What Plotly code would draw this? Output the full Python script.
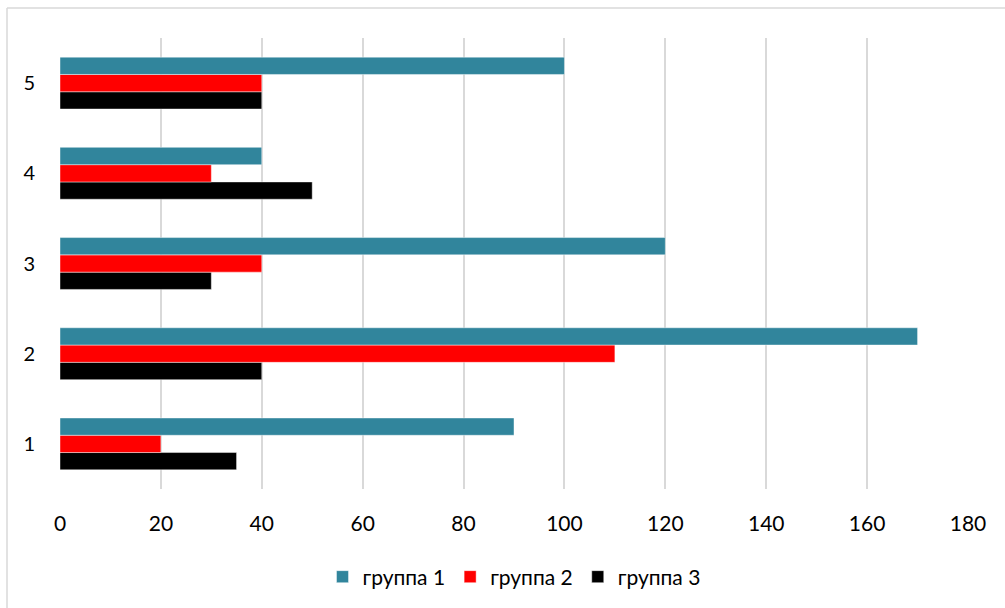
import plotly.graph_objects as go

# Chart data
categories = ["1", "2", "3", "4", "5"]
group1 = [90, 170, 120, 40, 100]
group2 = [20, 110, 40, 30, 40]
group3 = [35, 40, 30, 50, 40]
series_names = ["группа 1", "группа 2", "группа 3"]
series_colors = ["#31859C", "#FF0000", "#000000"]
x_ticks = [0, 20, 40, 60, 80, 100, 120, 140, 160, 180]

W, H = 1005, 608
L, R, T, B = 60, 37, 38, 118
pw, ph = W - L - R, H - T - B

fig = go.Figure()
# Added bottom-to-top so that "группа 1" sits uppermost in each category
for name, vals, col in reversed(list(zip(series_names, [group1, group2, group3], series_colors))):
    fig.add_trace(go.Bar(
        y=categories, x=vals, name=name, orientation="h",
        marker=dict(color=col, line=dict(color="rgba(255,255,255,0.55)", width=0.8)),
    ))

def px_x(p):
    return (p - L) / pw

def px_y(p):
    return (H - B - p) / ph

# Outer chart frame (top and left edges)
frame = dict(color="#D9D9D9", width=1.5)
fig.add_shape(type="line", xref="paper", yref="paper",
              x0=px_x(7), x1=px_x(1010), y0=px_y(8), y1=px_y(8), line=frame)
fig.add_shape(type="line", xref="paper", yref="paper",
              x0=px_x(7), x1=px_x(7), y0=px_y(8), y1=px_y(615), line=frame)

fig.update_layout(
    width=W, height=H,
    margin=dict(l=L, r=R, t=T, b=B),
    paper_bgcolor="white", plot_bgcolor="white",
    barmode="group", bargap=0.425, bargroupgap=0,
    font=dict(family="Lato, Calibri, sans-serif", color="#000000"),
    showlegend=True,
    legend=dict(orientation="h", x=0.5, xanchor="center", y=px_y(577), yanchor="middle",
                traceorder="reversed", font=dict(size=21), itemwidth=30),
    xaxis=dict(range=[0, 180], tickvals=x_ticks, showgrid=True, gridcolor="#D9D9D9",
               gridwidth=1.5, zeroline=False, showline=False, tickfont=dict(size=21),
               ticks="", ticklabelstandoff=20, fixedrange=True),
    yaxis=dict(type="category", showgrid=False, zeroline=False, showline=False,
               tickfont=dict(size=20), ticks="", ticklabelstandoff=24, fixedrange=True),
)

fig.write_html("out.html")
